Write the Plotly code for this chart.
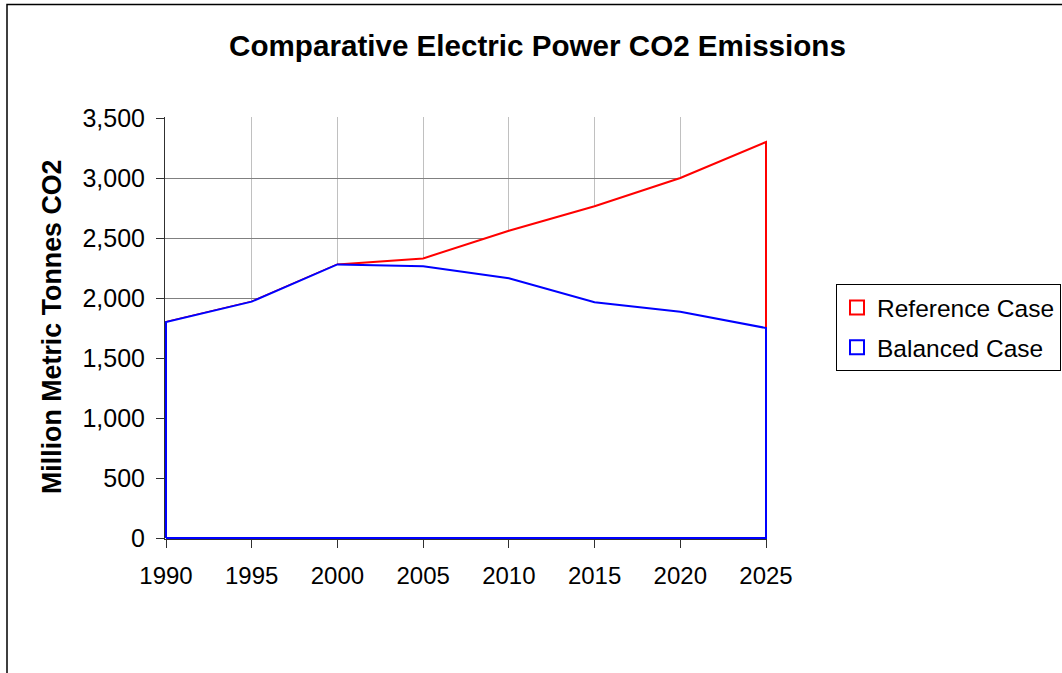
import plotly.graph_objects as go

# Electric power sector CO2 emissions, million metric tonnes
years = [1990, 1995, 2000, 2005, 2010, 2015, 2020, 2025]
reference_case = [1800, 1970, 2280, 2330, 2560, 2765, 3000, 3300]
balanced_case = [1800, 1970, 2280, 2265, 2165, 1965, 1885, 1750]
y_ticks = [0, 500, 1000, 1500, 2000, 2500, 3000, 3500]

FONT = "Liberation Sans, Arial, sans-serif"
W, H = 1062, 673
L, R, T, B = 165, 295, 117, 134  # plot-area margins in px
PW, PH = W - L - R, H - T - B

# Pad the axis ranges by about one pixel so the outline strokes on the
# plot edges are not clipped in half.
X_PAD = (years[-1] - years[0]) / 600.0
Y_PAD = (y_ticks[-1] - y_ticks[0]) / 420.0
X_RANGE = [years[0] - X_PAD, years[-1] + X_PAD]
Y_RANGE = [y_ticks[0] - Y_PAD, y_ticks[-1] + Y_PAD]


def px_to_paper_x(px):
    return (px - L) / PW


def px_to_paper_y(py):
    return (H - B - py) / PH


def outline(xs, ys):
    """Closed outline of an area series down to the zero baseline."""
    ox = [xs[0]] + list(xs) + [xs[-1], xs[0]]
    oy = [0] + list(ys) + [0, 0]
    return ox, oy


fig = go.Figure()

series = [
    ("Reference Case", reference_case, "#ff0000"),
    ("Balanced Case", balanced_case, "#0000ff"),
]

# Area series: white fill with coloured border, later series drawn on top
for name, vals, color in series:
    ox, oy = outline(years, vals)
    fig.add_trace(go.Scatter(
        x=ox, y=oy, mode="lines", fill="toself", fillcolor="white",
        line=dict(color=color, width=2), name=name, showlegend=False,
        hoverinfo="skip",
    ))

# Legend entries with open square swatches
for i, (name, vals, color) in enumerate(series):
    fig.add_trace(go.Scatter(
        x=[None], y=[None], mode="markers", name=name,
        legendgroup=f"g{i}",
        marker=dict(symbol="square-open", size=14,
                    color=color, line=dict(color=color, width=2)),
    ))

fig.update_layout(
    width=W, height=H,
    margin=dict(l=L, r=R, t=T, b=B, autoexpand=False),
    paper_bgcolor="white", plot_bgcolor="white",
    font=dict(family=FONT, size=24, color="black"),
    title=dict(
        text="<b>Comparative Electric Power CO2 Emissions</b>",
        font=dict(family=FONT, size=29.6, color="black"),
        x=537.5 / W, xref="container", xanchor="center",
        y=1 - 46 / H, yref="container", yanchor="middle",
    ),
    xaxis=dict(
        range=X_RANGE, tickvals=years, tickformat="d",
        showgrid=True, gridcolor="#c0c0c0", gridwidth=1,
        zeroline=False, showline=True, linecolor="#303030", linewidth=1,
        ticks="outside", ticklen=8, tickcolor="#303030",
        ticklabelstandoff=7, tickfont=dict(size=24), fixedrange=True,
    ),
    yaxis=dict(
        range=Y_RANGE, tickvals=y_ticks, tickformat=",d",
        showgrid=True, gridcolor="#808080", gridwidth=1,
        zeroline=False, showline=True, linecolor="#303030", linewidth=1,
        ticks="outside", ticklen=8, tickcolor="#303030",
        ticklabelstandoff=6, tickfont=dict(size=25), fixedrange=True,
    ),
    legend=dict(
        x=px_to_paper_x(836), y=px_to_paper_y(284),
        xanchor="left", yanchor="top",
        bordercolor="black", borderwidth=1, bgcolor="white",
        font=dict(family=FONT, size=24.5, color="black"),
        tracegroupgap=5, itemwidth=30,
    ),
    annotations=[dict(
        text="<b>Million Metric Tonnes CO2</b>", textangle=-90,
        xref="paper", yref="paper",
        x=px_to_paper_x(52), y=px_to_paper_y(327),
        xanchor="center", yanchor="middle",
        showarrow=False, font=dict(family=FONT, size=26.8, color="black"),
    )],
    shapes=[dict(
        type="rect", xref="paper", yref="paper",
        x0=px_to_paper_x(7), x1=px_to_paper_x(1075),
        y0=px_to_paper_y(690), y1=px_to_paper_y(4.5),
        line=dict(color="black", width=1.5), fillcolor="rgba(0,0,0,0)",
        layer="below",
    )],
)

fig.write_html("out.html")
